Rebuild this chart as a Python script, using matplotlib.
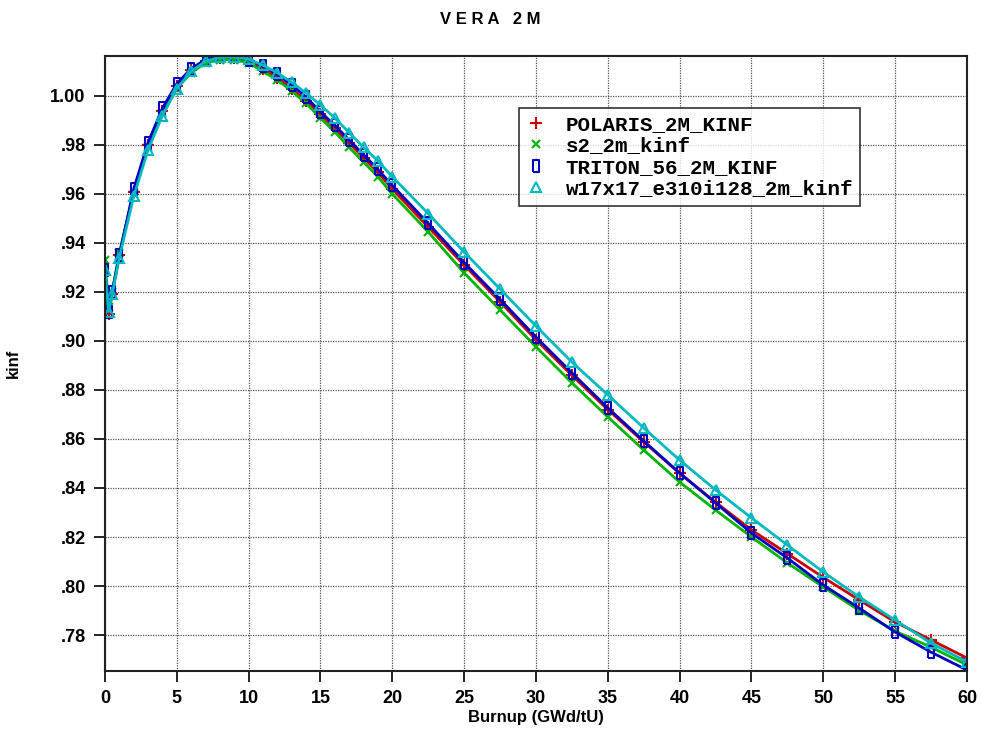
import numpy as np
import matplotlib
matplotlib.use("Agg")
import matplotlib.pyplot as plt
from matplotlib.ticker import FuncFormatter, MultipleLocator

burnup = [0, 0.25, 0.5, 1, 2, 3, 4, 5, 6, 7, 8, 9, 10, 11, 12, 13, 14, 15, 16, 17,
          18, 19, 20, 22.5, 25, 27.5, 30, 32.5, 35, 37.5, 40, 42.5, 45, 47.5, 50,
          52.5, 55, 57.5, 60]

polaris = [0.927, 0.911, 0.919, 0.935, 0.961, 0.980, 0.994, 1.004, 1.0105, 1.0142,
           1.0155, 1.0155, 1.0142, 1.0112, 1.0075, 1.0030, 0.9980, 0.9925, 0.9868,
           0.9808, 0.9748, 0.9688, 0.9620, 0.9465, 0.9310, 0.9160, 0.9005, 0.8860,
           0.8720, 0.8588, 0.8460, 0.8342, 0.8229, 0.8132, 0.8035, 0.7943, 0.7853,
           0.7780, 0.7706]

s2 = [0.933, 0.914, 0.920, 0.936, 0.960, 0.979, 0.993, 1.003, 1.0095, 1.0135,
      1.0148, 1.0148, 1.0135, 1.0100, 1.0065, 1.0020, 0.9970, 0.9910, 0.9853,
      0.9790, 0.9730, 0.9670, 0.9600, 0.9445, 0.9278, 0.9127, 0.8976, 0.8829,
      0.8690, 0.8555, 0.8424, 0.8310, 0.8200, 0.8094, 0.7996, 0.7900, 0.7816,
      0.7750, 0.7678]

triton = [0.929, 0.912, 0.920, 0.935, 0.962, 0.981, 0.995, 1.005, 1.0112, 1.0148,
          1.0162, 1.0162, 1.0148, 1.0122, 1.0088, 1.0045, 0.9995, 0.9935, 0.9880,
          0.9820, 0.9760, 0.9700, 0.9635, 0.9480, 0.9320, 0.9170, 0.9016, 0.8870,
          0.8727, 0.8592, 0.8461, 0.8339, 0.8216, 0.8114, 0.8004, 0.7910, 0.7812,
          0.7730, 0.7657]

w17 = [0.929, 0.912, 0.919, 0.934, 0.959, 0.978, 0.992, 1.003, 1.0100, 1.0142,
       1.0158, 1.0160, 1.0150, 1.0125, 1.0095, 1.0055, 1.0012, 0.9963, 0.9910,
       0.9850, 0.9790, 0.9735, 0.9670, 0.9520, 0.9363, 0.9212, 0.9061, 0.8914,
       0.8780, 0.8645, 0.8514, 0.8392, 0.8278, 0.8167, 0.8057, 0.7955, 0.7861,
       0.7767, 0.7690]

labels = ["POLARIS_2M_KINF", "s2_2m_kinf", "TRITON_56_2M_KINF", "w17x17_e310i128_2m_kinf"]

plt.rcParams['font.family'] = ['Liberation Sans', 'DejaVu Sans']

fig = plt.figure(figsize=(9.81, 7.40), dpi=100)
ax = fig.add_axes([0.107, 0.0932, 0.8787, 0.8311])

# tall open rectangle like the original plotting tool
rect = [(-0.6, -1), (0.6, -1), (0.6, 1), (-0.6, 1), (-0.6, -1)]

ax.plot(burnup, polaris, '-', marker='+', color='#cc0000', lw=2, ms=8, mew=1.5, label=labels[0])
ax.plot(burnup, s2, '-', marker='x', color='#00b400', lw=2, ms=6, mew=1.5, label=labels[1])
ax.plot(burnup, triton, '-', marker=rect, color='#0000c0', lw=2, ms=8, mew=1.5,
        mfc='none', label=labels[2])
ax.plot(burnup, w17, '-', marker='^', color='#00b8c0', lw=2, ms=7, mew=1.5,
        mfc='none', label=labels[3])

ax.set_xlim(0, 60)
ax.set_ylim(0.7653, 1.0163)
ax.xaxis.set_major_locator(MultipleLocator(5))
ax.yaxis.set_major_locator(MultipleLocator(0.02))

def fmt(v, pos):
    s = "{:.2f}".format(v)
    if s.startswith("0"):
        s = s[1:]
    return s

ax.yaxis.set_major_formatter(FuncFormatter(fmt))

ax.grid(True, color='#555555', linestyle=(0, (1, 1)), linewidth=0.9)
ax.tick_params(axis='both', direction='out', length=8, width=1.2, labelsize=13, pad=6)
for lab in ax.get_xticklabels() + ax.get_yticklabels():
    lab.set_fontweight('bold')
for sp in ax.spines.values():
    sp.set_linewidth(1.5)
    sp.set_color('#222222')

ax.set_xlabel("Burnup (GWd/tU)", fontsize=12, fontweight='bold', labelpad=2)
ax.set_ylabel("kinf", fontsize=12, fontweight='bold')
ax.yaxis.set_label_coords(-0.098, 0.5)
fig.text(0.5, 0.974, "V E R A   2 M", ha='center', va='center', fontsize=12, fontweight='bold')

leg = ax.legend(loc='upper left', bbox_to_anchor=(0.48, 0.916), frameon=True, fancybox=False,
                edgecolor='black', handlelength=1.0, handletextpad=0.9, borderpad=0.35,
                labelspacing=0.12, borderaxespad=0,
                prop={'family': 'Liberation Mono', 'weight': 'bold', 'size': 15})
leg.get_frame().set_linewidth(1.2)
for h in leg.get_lines():
    h.set_linestyle('none')

fig.savefig('out.png', dpi=100)
